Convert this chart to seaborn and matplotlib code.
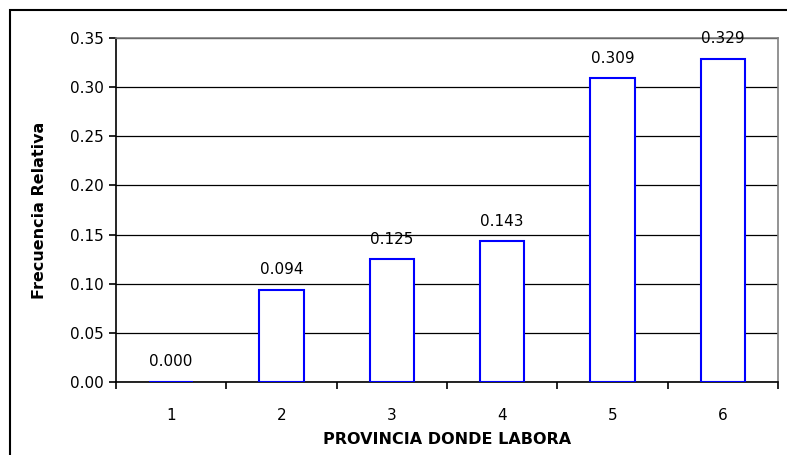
import numpy as np
import matplotlib
matplotlib.use("Agg")
import matplotlib.pyplot as plt
import seaborn as sns
from matplotlib.patches import Rectangle

# Data
categories = ["1", "2", "3", "4", "5", "6"]
values = [0.000, 0.094, 0.125, 0.143, 0.309, 0.329]
value_labels = ["0.000", "0.094", "0.125", "0.143", "0.309", "0.329"]
y_ticks = [0.00, 0.05, 0.10, 0.15, 0.20, 0.25, 0.30, 0.35]

sns.set_style("white")
plt.rcParams["font.family"] = ["DejaVu Sans"]
plt.rcParams["text.color"] = "black"
plt.rcParams["axes.labelcolor"] = "black"
plt.rcParams["xtick.color"] = "black"
plt.rcParams["ytick.color"] = "black"

fig = plt.figure(figsize=(7.87, 4.55), dpi=100)
ax = fig.add_axes([116 / 787, 1 - 382 / 455, (778 - 116) / 787, (382 - 38) / 455])

sns.barplot(x=categories, y=values, width=0.4, color="white",
            edgecolor="#0000FF", linewidth=1.5, ax=ax, zorder=3)

ax.set_xlim(-0.5, 5.5)
ax.set_ylim(0, 0.35)
ax.set_yticks(y_ticks)
ax.set_yticklabels([f"{t:.2f}" for t in y_ticks], fontsize=11)
ax.yaxis.grid(True, color="black", linewidth=0.9, zorder=0)
ax.set_axisbelow(True)

# ticks at category boundaries, labels centred on categories
ax.set_xticks(np.arange(-0.5, 6, 1))
ax.set_xticklabels([])
ax.set_xticks(np.arange(0, 6), minor=True)
ax.set_xticklabels(categories, minor=True, fontsize=11)
ax.tick_params(axis="x", which="major", direction="out", length=5, width=1.2, color="black", bottom=True)
ax.tick_params(axis="x", which="minor", length=0, pad=19)
ax.tick_params(axis="y", direction="out", length=5, width=1.2, color="black", left=True)

for side in ["left", "bottom"]:
    ax.spines[side].set_color("black")
    ax.spines[side].set_linewidth(1.2)
for side in ["top", "right"]:
    ax.spines[side].set_color("#808080")
    ax.spines[side].set_linewidth(1.2)

for i, (v, lab) in enumerate(zip(values, value_labels)):
    ax.annotate(lab, (i, v), xytext=(0, 9), textcoords="offset points",
                ha="center", va="bottom", fontsize=11, zorder=5)

ax.set_xlabel("PROVINCIA DONDE LABORA", fontsize=11.5, fontweight="bold", labelpad=6)
ax.set_ylabel("Frecuencia Relativa", fontsize=11.5, fontweight="bold", labelpad=17)

# outer chart frame
fig.patches.append(Rectangle((10 / 787, -0.1), 1.2, 1 - 10 / 455 + 0.1,
                             transform=fig.transFigure, fill=False,
                             edgecolor="black", linewidth=1.5))

fig.savefig("out.png", dpi=100)
